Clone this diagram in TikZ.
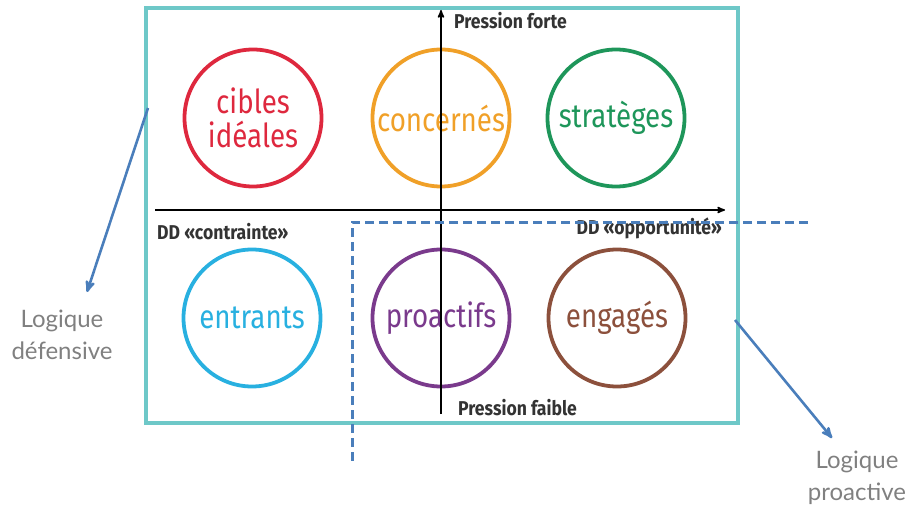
\documentclass[tikz,border=0pt]{standalone}
\usepackage{fontspec}
\setmainfont{Fira Sans}[FakeStretch=0.84]
\newfontfamily\axefont{Fira Sans}[FakeStretch=0.88]
\newfontfamily\logiquefont{Lato}
\usepackage{tikz}
\usetikzlibrary{arrows,positioning}

\definecolor{cadre}{RGB}{110,200,200}
\definecolor{fleche}{RGB}{74,126,187}
\definecolor{grisL}{RGB}{128,128,128}
\definecolor{rouge}{RGB}{222,40,62}
\definecolor{orange}{RGB}{240,160,40}
\definecolor{vert}{RGB}{30,150,90}
\definecolor{cyan}{RGB}{40,176,224}
\definecolor{violet}{RGB}{122,58,140}
\definecolor{brun}{RGB}{140,80,60}

\begin{document}
\begin{tikzpicture}[x=1pt,y=-1pt,>=stealth',
  groupe/.style={circle,draw=#1,text=#1,line width=3.8pt,minimum size=137pt,
    inner sep=0pt,align=center,font=\fontsize{33}{34}\selectfont},
  axe/.style={font=\axefont\fontsize{20}{22}\selectfont\bfseries,text=black!80,inner sep=0pt},
  logique/.style={font=\logiquefont\fontsize{24}{32}\selectfont,text=grisL,align=center}]
  \useasboundingbox (0,0) rectangle (909,508);
  \draw[cadre,line width=3.4pt] (146,8) rectangle (738,423);

  \node[groupe=rouge]  (cibles)    at (253,118) {cibles\\id\'eales};
  \node[groupe=orange] (concernes) at (441,118) {concern\'es};
  \node[groupe=vert]   (strateges) at (616,118) {strat\`eges};
  \node[groupe=cyan]   (entrants)  at (252,318) {entrants};
  \node[groupe=violet] (proactifs) at (441,318) {proactifs};
  \node[groupe=brun]   (engages)   at (617,318) {engag\'es};

  % axes
  \coordinate (bas)    at (441,414);
  \coordinate (haut)   at (441,10);
  \coordinate (gauche) at (155,210);
  \coordinate (droite) at (725,210);
  \draw[->,line width=1.6pt] (bas) -- (haut);
  \draw[->,line width=1.6pt] (gauche) -- (droite);
  \node[axe,anchor=west] (forte)       at (454,21)  {Pression forte};
  \node[axe,anchor=west] (faible)      at (458,408) {Pression faible};
  \node[axe,anchor=west] (contrainte)  at (157,232) {DD «contrainte»};
  \node[axe,anchor=east] (opportunite) at (722,228) {DD «opportunit\'e»};

  % zone proactive
  \coordinate (z1) at (808,222);
  \coordinate (z2) at (352,222);
  \coordinate (z3) at (352,464);
  \draw[fleche,line width=3pt,dash pattern=on 9pt off 5pt] (z1) -- (z2) -- (z3);

  \node[logique] (defensive) at (62,335) {Logique\\d\'efensive};
  \node[logique] (proactive) at (857,478) {Logique\\proactive};
  \coordinate (d0) at (148,108);
  \coordinate (d1) at (87,292);
  \coordinate (p0) at (735,320);
  \coordinate (p1) at (832,438);
  \draw[->,fleche,line width=2.6pt] (d0) -- (d1);
  \draw[->,fleche,line width=2.6pt] (p0) -- (p1);
\end{tikzpicture}
\end{document}
